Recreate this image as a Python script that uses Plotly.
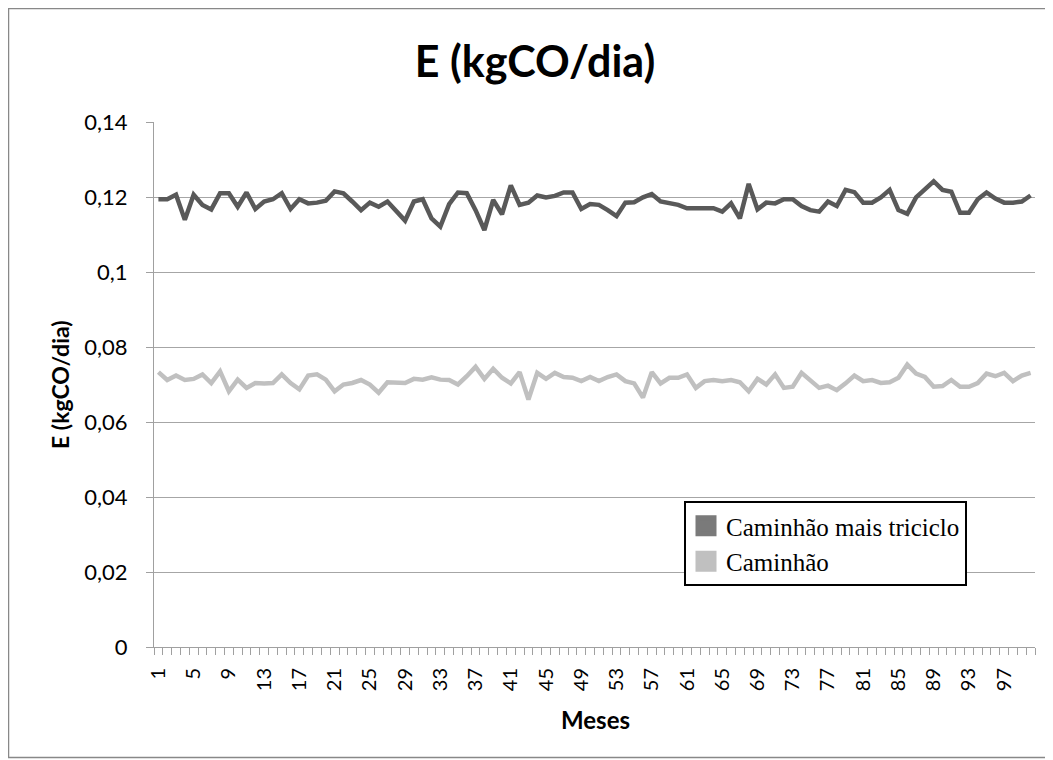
import plotly.graph_objects as go

meses = list(range(1, 101))

caminhao_mais_triciclo = [
    0.1194, 0.1194, 0.1206, 0.1139, 0.1206, 0.1179, 0.1167, 0.1210, 0.1210, 0.1174,
    0.1212, 0.1168, 0.1188, 0.1194, 0.1210, 0.1168, 0.1194, 0.1183, 0.1185, 0.1190,
    0.1215, 0.1210, 0.1188, 0.1165, 0.1185, 0.1174, 0.1188, 0.1161, 0.1137, 0.1188,
    0.1194, 0.1143, 0.1121, 0.1181, 0.1212, 0.1210, 0.1165, 0.1112, 0.1192, 0.1154,
    0.1231, 0.1179, 0.1185, 0.1204, 0.1199, 0.1203, 0.1212, 0.1212, 0.1168, 0.1181,
    0.1179, 0.1165, 0.1149, 0.1185, 0.1186, 0.1199, 0.1208, 0.1188, 0.1185, 0.1179,
    0.1170, 0.1170, 0.1170, 0.1170, 0.1161, 0.1183, 0.1143, 0.1235, 0.1167, 0.1185,
    0.1183, 0.1194, 0.1194, 0.1176, 0.1165, 0.1161, 0.1188, 0.1176, 0.1219, 0.1213,
    0.1185, 0.1185, 0.1199, 0.1219, 0.1165, 0.1155, 0.1199, 0.1220, 0.1242, 0.1219,
    0.1214, 0.1158, 0.1158, 0.1194, 0.1212, 0.1196, 0.1185, 0.1185, 0.1188, 0.1204,
]

caminhao = [
    0.0733, 0.0712, 0.0724, 0.0712, 0.0715, 0.0727, 0.0704, 0.0735, 0.0682, 0.0713,
    0.0691, 0.0704, 0.0703, 0.0704, 0.0727, 0.0704, 0.0687, 0.0724, 0.0727, 0.0713,
    0.0682, 0.0700, 0.0704, 0.0712, 0.0700, 0.0678, 0.0706, 0.0706, 0.0704, 0.0715,
    0.0713, 0.0719, 0.0713, 0.0712, 0.0700, 0.0722, 0.0747, 0.0715, 0.0742, 0.0718,
    0.0703, 0.0733, 0.0660, 0.0731, 0.0715, 0.0731, 0.0720, 0.0718, 0.0709, 0.0720,
    0.0709, 0.0720, 0.0727, 0.0709, 0.0703, 0.0665, 0.0733, 0.0703, 0.0718, 0.0718,
    0.0727, 0.0691, 0.0709, 0.0712, 0.0709, 0.0712, 0.0706, 0.0682, 0.0715, 0.0700,
    0.0727, 0.0691, 0.0694, 0.0731, 0.0709, 0.0691, 0.0697, 0.0685, 0.0703, 0.0724,
    0.0709, 0.0712, 0.0704, 0.0706, 0.0718, 0.0753, 0.0729, 0.0720, 0.0694, 0.0696,
    0.0712, 0.0694, 0.0694, 0.0704, 0.0729, 0.0722, 0.0731, 0.0709, 0.0724, 0.0731,
]

y_ticks = [0, 0.02, 0.04, 0.06, 0.08, 0.1, 0.12, 0.14]
y_labels = ["0", "0,02", "0,04", "0,06", "0,08", "0,1", "0,12", "0,14"]
x_ticks = list(range(1, 101, 4))

dark_line = "#595959"
light_line = "#c0c0c0"
legend_dark = "#7a7a7a"

fig = go.Figure()
fig.add_trace(go.Scatter(x=meses, y=caminhao_mais_triciclo, mode="lines",
                         line=dict(color=dark_line, width=4.5), showlegend=False))
fig.add_trace(go.Scatter(x=meses, y=caminhao, mode="lines",
                         line=dict(color=light_line, width=4.5), showlegend=False))
# legend entries with square swatches
fig.add_trace(go.Scatter(x=[None], y=[None], mode="markers", name="Caminhão mais triciclo",
                         marker=dict(symbol="square", size=16, color=legend_dark,
                                     line=dict(color=legend_dark, width=5))))
fig.add_trace(go.Scatter(x=[None], y=[None], mode="markers", name="Caminhão",
                         marker=dict(symbol="square", size=16, color=light_line,
                                     line=dict(color=light_line, width=5))))

# figure sits in the page with an 8px body margin
W, H = 1045, 752
L, T = 146, 114
PR, PB = 1027, 639
R, B = W - PR, H - PB
pw, ph = PR - L, PB - T

def px_x(p):
    return (p - L) / pw

def px_y(p):
    return (PB - p) / ph

fig.update_layout(
    width=W, height=H,
    margin=dict(l=L, r=R, t=T, b=B, autoexpand=False),
    paper_bgcolor="white", plot_bgcolor="white",
    font=dict(family="Lato, Carlito, sans-serif", color="#000000"),
    title=dict(text="<b>E (kgCO/dia)</b>", x=527 / W, xanchor="center",
               y=1 - 54 / H, yanchor="middle",
               font=dict(size=43, family="Lato, Carlito, sans-serif", color="#000000")),
    xaxis=dict(
        range=[0.5, 100.5], tickvals=x_ticks, ticktext=[str(v) for v in x_ticks],
        tickangle=-90, tickfont=dict(size=20), ticks="", showgrid=False,
        ticklabelstandoff=12,
        showline=True, linecolor="#a0a0a0", linewidth=1, zeroline=False,
        minor=dict(tick0=0.5, dtick=1, ticks="outside", ticklen=7, tickcolor="#a0a0a0",
                   showgrid=False),
    ),
    yaxis=dict(
        range=[0, 0.14], tickvals=y_ticks, ticktext=y_labels, tickfont=dict(size=22),
        showgrid=True, gridcolor="#a6a6a6", gridwidth=1, ticks="outside", ticklen=7,
        tickcolor="#a0a0a0", showline=True, linecolor="#a0a0a0", linewidth=1,
        zeroline=False, ticklabelstandoff=14,
    ),
    legend=dict(
        x=px_x(676), y=px_y(493), xanchor="left", yanchor="top",
        bgcolor="white", bordercolor="#000000", borderwidth=2,
        font=dict(family="Liberation Serif, Times New Roman, serif", size=25, color="#000000"),
        tracegroupgap=0, itemwidth=30,
    ),
    annotations=[
        dict(text="<b>E (kgCO/dia)</b>", xref="paper", yref="paper",
             x=px_x(52), y=px_y(377), textangle=-90, showarrow=False,
             xanchor="center", yanchor="middle",
             font=dict(size=23, family="Lato, Carlito, sans-serif")),
        dict(text="<b>Meses</b>", xref="paper", yref="paper",
             x=px_x(587), y=px_y(711), showarrow=False,
             xanchor="center", yanchor="middle",
             font=dict(size=24, family="Lato, Carlito, sans-serif")),
    ],
    shapes=[
        dict(type="rect", xref="paper", yref="paper",
             x0=px_x(0.5), x1=px_x(1042.5), y0=px_y(749.5), y1=px_y(0.5),
             line=dict(color="#888888", width=1.5), fillcolor="rgba(0,0,0,0)", layer="below"),
    ],
)

fig.write_html("out.html")
